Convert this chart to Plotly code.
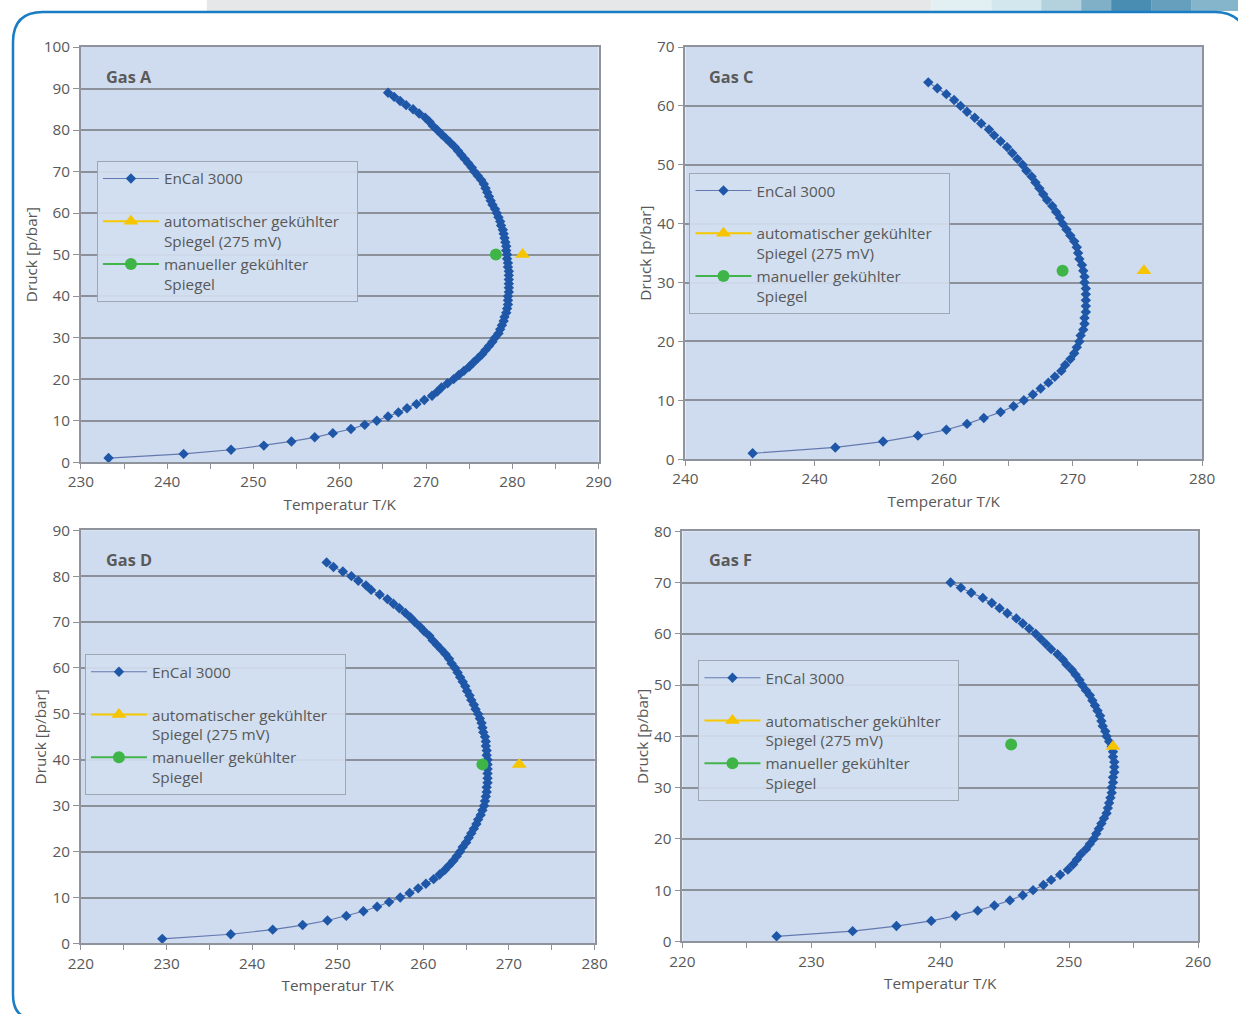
import plotly.graph_objects as go

# page -> photo mapping observed for this viewer: photo = S * page + C
S, C = 0.98, 11.0
W = round((1238 - C) / S)
H = round((1014 - C) / S)

# ---------------- data ----------------
# Gas A (EnCal 3000)
pA = [1, 2, 3, 4, 5, 6, 7, 8, 9, 10, 11, 12, 13, 14, 15, 16, 17, 18, 19, 20,
      21, 22, 23, 24, 25, 26, 27, 28, 29, 30, 31, 32, 33, 34, 35, 36, 37, 38, 39, 40,
      41, 42, 43, 44, 45, 46, 47, 48, 49, 50, 51, 52, 53, 54, 55, 56, 57, 58, 59, 60,
      61, 62, 63, 64, 65, 66, 67, 68, 69, 70, 71, 72, 73, 74, 75, 76, 77, 78, 79, 80,
      81, 82, 83, 84, 85, 86, 87, 88, 89]
tA = [233.2, 241.9, 247.4, 251.2, 254.4, 257.1, 259.2, 261.3, 262.9, 264.3,
      265.6, 266.8, 267.8, 268.9, 269.8, 270.7, 271.3, 271.8, 272.5, 273.2,
      273.8, 274.4, 275.0, 275.5, 276.0, 276.5, 276.9, 277.3, 277.7, 278.0,
      278.4, 278.6, 278.8, 279.0, 279.1, 279.3, 279.4, 279.5, 279.5, 279.5,
      279.6, 279.6, 279.6, 279.6, 279.6, 279.6, 279.5, 279.5, 279.4, 279.4,
      279.3, 279.3, 279.2, 279.1, 279.0, 278.9, 278.7, 278.6, 278.4, 278.2,
      278.0, 277.7, 277.5, 277.3, 277.1, 276.9, 276.7, 276.4, 276.0, 275.6,
      275.3, 274.9, 274.5, 274.1, 273.7, 273.3, 272.8, 272.3, 271.8, 271.3,
      270.8, 270.4, 269.9, 269.2, 268.5, 267.7, 267.0, 266.3, 265.6]

# Gas C (EnCal 3000)
pC = [1, 2, 3, 4, 5, 6, 7, 8, 9, 10, 11, 12, 13, 14, 15, 16, 17, 18, 19, 20,
      21, 22, 23, 24, 25, 26, 27, 28, 29, 30, 31, 32, 33, 34, 35, 36, 37, 38, 39, 40,
      41, 42, 43, 44, 45, 46, 47, 48, 49, 50, 51, 52, 53, 54, 55, 56, 57, 58, 59, 60,
      61, 62, 63, 64]
tC = [245.2, 251.6, 255.3, 258.0, 260.2, 261.8, 263.1, 264.4, 265.4, 266.2,
      266.9, 267.5, 268.1, 268.6, 269.1, 269.4, 269.8, 270.1, 270.3, 270.5,
      270.6, 270.8, 270.9, 270.9, 271.0, 271.0, 271.0, 271.0, 271.0, 270.9,
      270.9, 270.8, 270.7, 270.5, 270.4, 270.3, 270.1, 269.8, 269.5, 269.2,
      269.0, 268.7, 268.4, 268.0, 267.7, 267.4, 267.1, 266.8, 266.4, 266.1,
      265.7, 265.3, 264.9, 264.4, 263.9, 263.5, 262.9, 262.4, 261.8, 261.3,
      260.8, 260.2, 259.5, 258.8]

# Gas D (EnCal 3000)
pD = [1, 2, 3, 4, 5, 6, 7, 8, 9, 10, 11, 12, 13, 14, 15, 16, 17, 18, 19, 20,
      21, 22, 23, 24, 25, 26, 27, 28, 29, 30, 31, 32, 33, 34, 35, 36, 37, 38, 39, 40,
      41, 42, 43, 44, 45, 46, 47, 48, 49, 50, 51, 52, 53, 54, 55, 56, 57, 58, 59, 60,
      61, 62, 63, 64, 65, 66, 67, 68, 69, 70, 71, 72, 73, 74, 75, 76, 77, 78, 79, 80,
      81, 82, 83]
tD = [229.5, 237.5, 242.4, 245.9, 248.8, 251.0, 253.0, 254.6, 256.0, 257.3,
      258.4, 259.4, 260.3, 261.2, 261.9, 262.5, 263.0, 263.5, 263.9, 264.3,
      264.6, 265.0, 265.3, 265.6, 265.9, 266.2, 266.4, 266.7, 266.9, 267.1,
      267.2, 267.3, 267.4, 267.4, 267.5, 267.5, 267.5, 267.5, 267.5, 267.5,
      267.4, 267.4, 267.3, 267.3, 267.2, 267.0, 266.9, 266.8, 266.6, 266.4,
      266.1, 265.9, 265.6, 265.4, 265.1, 264.9, 264.6, 264.3, 264.0, 263.7,
      263.3, 263.0, 262.6, 262.1, 261.6, 261.1, 260.7, 260.1, 259.6, 259.0,
      258.5, 257.9, 257.2, 256.5, 255.8, 254.9, 253.9, 253.3, 252.4, 251.6,
      250.6, 249.5, 248.7]

# Gas F (EnCal 3000)
pF = [1, 2, 3, 4, 5, 6, 7, 8, 9, 10, 11, 12, 13, 14, 15, 16, 17, 18, 19, 20,
      21, 22, 23, 24, 25, 26, 27, 28, 29, 30, 31, 32, 33, 34, 35, 36, 37, 38, 39, 40,
      41, 42, 43, 44, 45, 46, 47, 48, 49, 50, 51, 52, 53, 54, 55, 56, 57, 58, 59, 60,
      61, 62, 63, 64, 65, 66, 67, 68, 69, 70]
tF = [227.3, 233.2, 236.6, 239.3, 241.2, 242.9, 244.2, 245.4, 246.4, 247.2,
      248.0, 248.6, 249.3, 249.9, 250.3, 250.6, 250.9, 251.3, 251.6, 251.9,
      252.1, 252.3, 252.5, 252.7, 252.9, 253.0, 253.1, 253.2, 253.3, 253.3,
      253.4, 253.4, 253.5, 253.5, 253.5, 253.4, 253.4, 253.3, 253.1, 252.9,
      252.8, 252.6, 252.5, 252.4, 252.2, 252.0, 251.8, 251.6, 251.3, 251.0,
      250.8, 250.5, 250.2, 249.8, 249.5, 249.1, 248.6, 248.2, 247.8, 247.4,
      246.9, 246.4, 245.9, 245.2, 244.6, 244.0, 243.3, 242.4, 241.6, 240.8]

# single measurements (temperature K, pressure bar)
autoT = [281.2, 275.5, 271.2, 253.4]
autoP = [50.0, 32.0, 39.0, 38.0]
manT = [278.1, 269.2, 266.9, 245.5]
manP = [50.0, 32.0, 39.0, 38.4]

gas_names = ["Gas A", "Gas C", "Gas D", "Gas F"]
x_ranges = [[230, 290], [240, 280], [220, 280], [220, 260]]
y_ranges = [[0, 100], [0, 70], [0, 90], [0, 80]]
x_tickvals = [[230, 240, 250, 260, 270, 280, 290],
              [240, 250, 260, 270, 280],
              [220, 230, 240, 250, 260, 270, 280],
              [220, 230, 240, 250, 260]]
x_ticktext = [["230", "240", "250", "260", "270", "280", "290"],
              ["240", "240", "260", "270", "280"],
              ["220", "230", "240", "250", "260", "270", "280"],
              ["220", "230", "240", "250", "260"]]

name_encal = "EnCal 3000<br> "
name_auto = "automatischer gekühlter&nbsp;&nbsp;&nbsp;<br>Spiegel (275 mV)"
name_man = "manueller gekühlter<br>Spiegel"
x_title = "Temperatur T/K"
y_title = "Druck [p/bar]"

curves_T = [tA, tC, tD, tF]
curves_P = [pA, pC, pD, pF]

# ---------------- layout geometry (target photo pixels) ----------------
plot_px = [  # left, right, top, bottom
    (79, 597, 47, 462),
    (684, 1201, 47, 459),
    (79, 593, 530, 943),
    (681, 1197, 531, 941),
]
legend_px = [(95, 161), (688, 173), (83, 654), (697, 660)]
label_px = [(102, 77), (706, 77), (102, 560), (706, 560)]

TEXT = "#585858"
GRID = "#8c9098"
AXLINE = "#8f949c"
BG = "#cfdcef"
FONT = "Open Sans"
FS = 15 / S


def fx(x):
    return ((x - C) / S) / W


def fy(y):
    return 1 - ((y - C) / S) / H


fig = go.Figure()
layout = dict(
    width=W, height=H,
    margin=dict(l=0, r=0, t=0, b=0),
    paper_bgcolor="white",
    plot_bgcolor=BG,
    font=dict(family=FONT, size=FS, color=TEXT),
    showlegend=True,
    annotations=[],
    shapes=[],
)

for i in range(4):
    sfx = "" if i == 0 else str(i + 1)
    xa, ya = "x" + sfx, "y" + sfx
    leg = "legend" + sfx
    l, r, t, b = plot_px[i]
    layout["xaxis" + sfx] = dict(
        domain=[fx(l), fx(r)], range=x_ranges[i], anchor=ya,
        tickmode="array", tickvals=x_tickvals[i], ticktext=x_ticktext[i],
        ticks="outside", ticklen=5, tickcolor=AXLINE, tickwidth=1.2,
        minor=dict(ticks="outside", ticklen=5, tickcolor=AXLINE, tickwidth=1.2,
                   dtick=5, tick0=0, showgrid=False),
        showgrid=False, zeroline=False,
        showline=True, mirror=True, linecolor=AXLINE, linewidth=1.8,
        tickfont=dict(size=FS, color=TEXT),
        title=dict(text=x_title, font=dict(size=FS, color=TEXT), standoff=9),
    )
    layout["yaxis" + sfx] = dict(
        domain=[fy(b), fy(t)], range=y_ranges[i], anchor=xa,
        dtick=10, tick0=0,
        ticks="outside", ticklen=6, tickcolor=AXLINE, tickwidth=1.2,
        showgrid=True, gridcolor=GRID, gridwidth=1.6, zeroline=False,
        showline=True, mirror=True, linecolor=AXLINE, linewidth=1.8,
        tickfont=dict(size=FS, color=TEXT),
        title=dict(text=y_title, font=dict(size=FS, color=TEXT), standoff=2),
    )
    lx, ly = legend_px[i]
    layout[leg] = dict(
        x=fx(lx), y=fy(ly), xanchor="left", yanchor="top",
        bgcolor="rgba(210,222,240,0.92)", bordercolor="#9ea7b4", borderwidth=1,
        font=dict(family=FONT, size=FS, color=TEXT),
        valign="top", itemwidth=56, tracegroupgap=0,
    )
    gx, gy = label_px[i]
    layout["annotations"].append(dict(
        text="<b>" + gas_names[i] + "</b>", x=fx(gx), y=fy(gy),
        xref="paper", yref="paper", xanchor="left", yanchor="middle",
        showarrow=False, font=dict(size=16 / S, color="#5a5a5a", family=FONT),
    ))

    fig.add_trace(go.Scatter(
        x=curves_T[i], y=curves_P[i], mode="lines+markers", name=name_encal,
        line=dict(color="#6479b0", width=1.2),
        marker=dict(symbol="diamond", size=8, color="#1f57a8"),
        xaxis=xa, yaxis=ya, legend=leg, cliponaxis=False,
    ))
    fig.add_trace(go.Scatter(
        x=[autoT[i]], y=[autoP[i]], mode="lines+markers", name=name_auto,
        line=dict(color="#f5c800", width=2),
        marker=dict(symbol="triangle-up", size=13, color="#f7c400"),
        xaxis=xa, yaxis=ya, legend=leg,
    ))
    fig.add_trace(go.Scatter(
        x=[manT[i]], y=[manP[i]], mode="lines+markers", name=name_man,
        line=dict(color="#43b34b", width=2),
        marker=dict(symbol="circle", size=12, color="#3fb548"),
        xaxis=xa, yaxis=ya, legend=leg,
    ))


def P(x, y):
    return "%.5f,%.5f" % (fx(x), fy(y))


# decorative top band (grey + blue gradient)
band = [(205, 930, "#e6e7e9"), (930, 990, "#e2eff3"), (990, 1040, "#d2e7ee"),
        (1040, 1080, "#b3d2de"), (1080, 1110, "#7fb0c8"), (1110, 1150, "#4a8db3"),
        (1150, 1190, "#669fbe"), (1190, 1240, "#84b5cb")]
for x0, x1, c in band:
    layout["shapes"].append(dict(
        type="rect", xref="paper", yref="paper",
        x0=fx(x0), x1=fx(x1), y0=fy(11), y1=fy(-2),
        fillcolor=c, line=dict(width=0), layer="above"))

# rounded blue frame
frame = ("M " + P(32, 1018) + " Q " + P(11, 1018) + " " + P(11, 994)
         + " L " + P(11, 42) + " Q " + P(11, 12) + " " + P(41, 12)
         + " L " + P(1214, 12) + " Q " + P(1234, 12) + " " + P(1244, 28))
layout["shapes"].append(dict(
    type="path", xref="paper", yref="paper", path=frame,
    line=dict(color="#1a7cc3", width=2.5), layer="above"))

fig.update_layout(**layout)
fig.write_html(
    "out.html",
    config={"displayModeBar": False},
    post_script="document.body.style.margin='0';document.body.style.padding='0';"
                "document.documentElement.style.overflow='hidden';",
)
